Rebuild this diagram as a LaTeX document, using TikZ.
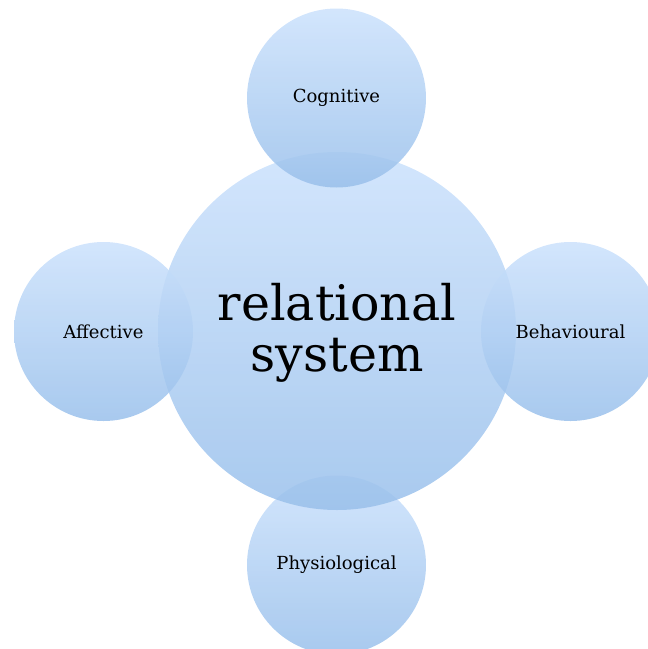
\documentclass[tikz,border=0pt]{standalone}
\usepackage{fontspec}
\setmainfont{DejaVu Serif}
\definecolor{bubbletop}{RGB}{203,225,252}
\definecolor{bubblebottom}{RGB}{153,192,235}
\begin{document}
\begin{tikzpicture}[x=1pt,y=-1pt,
  bubble/.style={circle, draw=none, inner sep=0pt,
    top color=bubbletop, bottom color=bubblebottom, fill opacity=0.85},
  facet/.style={font=\fontsize{18}{22}\selectfont, text=black},
  core/.style={font=\fontsize{49}{51}\selectfont, text=black, align=center}
]
\useasboundingbox (0,0) rectangle (648,649);

% outer facets and the central circle
\node[bubble, minimum size=179] (phy) at (336.5,565) {};
\node[bubble, minimum size=358] (centre) at (337,331) {};
\node[bubble, minimum size=179] (cog) at (336.5,98) {};
\node[bubble, minimum size=179] (aff) at (103.5,331.5) {};
\node[bubble, minimum size=179] (beh) at (570.5,331.5) {};

% labels
\node[core] (centretext) at ([yshift=-2pt]centre) {relational\\system};
\node[facet] (cogtext) at (cog) {Cognitive};
\node[facet] (afftext) at (aff) {Affective};
\node[facet] (behtext) at (beh) {Behavioural};
\node[facet] (phytext) at (phy) {Physiological};
\end{tikzpicture}
\end{document}
